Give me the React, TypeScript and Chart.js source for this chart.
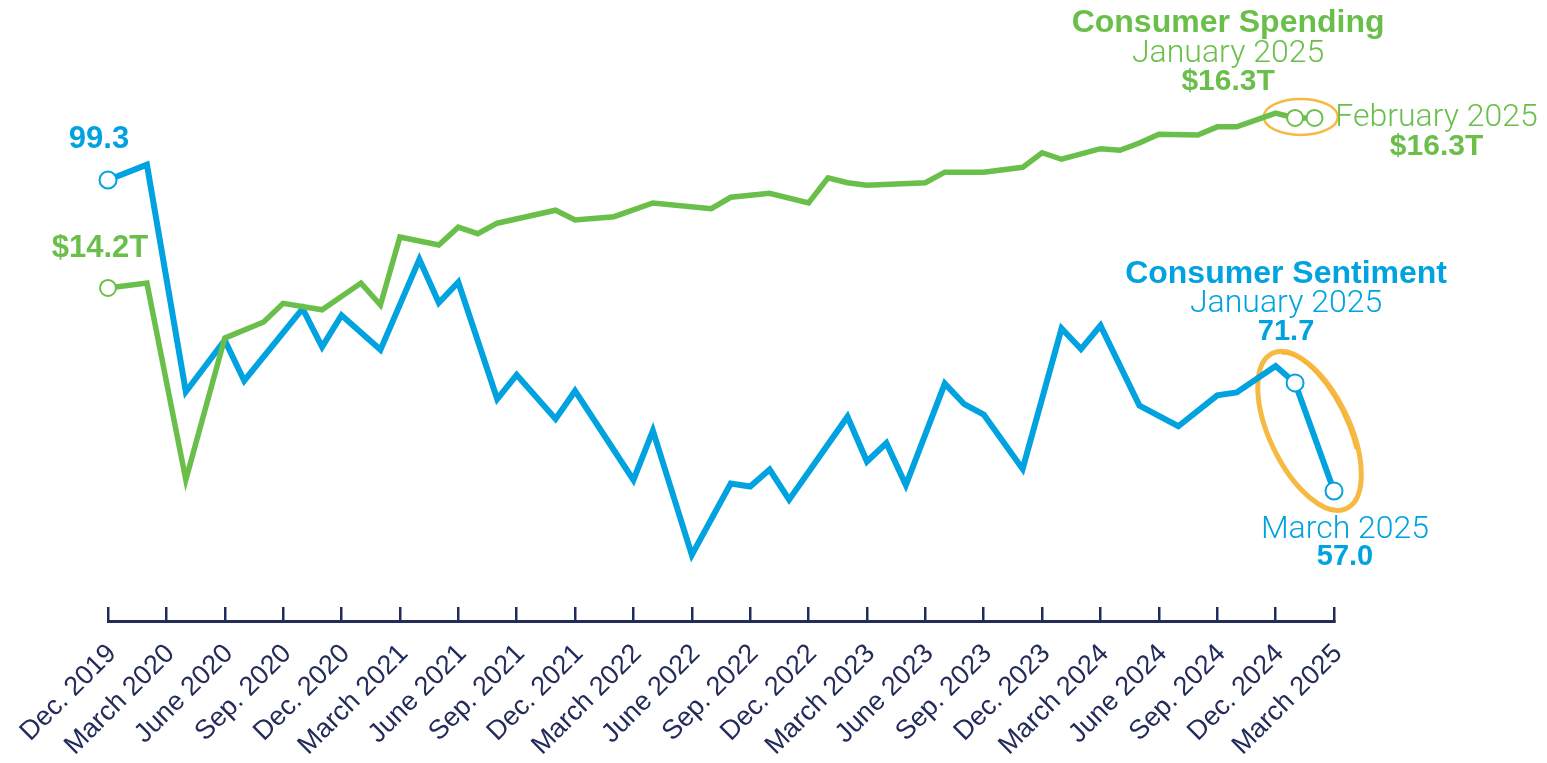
import React, { useEffect, useRef } from "react";
import { Chart, registerables } from "chart.js";

Chart.register(...registerables);

// x values are months counted from Dec. 2019 (0) to March 2025 (63)
const tickLabels = [
  "Dec. 2019", "March 2020", "June 2020", "Sep. 2020", "Dec. 2020", "March 2021",
  "June 2021", "Sep. 2021", "Dec. 2021", "March 2022", "June 2022", "Sep. 2022",
  "Dec. 2022", "March 2023", "June 2023", "Sep. 2023", "Dec. 2023", "March 2024",
  "June 2024", "Sep. 2024", "Dec. 2024", "March 2025",
];

const sentimentMonths = [
  0, 2, 4, 6, 7, 10, 11, 12, 14, 16, 17, 18, 20, 21, 23, 24, 27, 28, 30, 32, 33,
  34, 35, 38, 39, 40, 41, 43, 44, 45, 47, 49, 50, 51, 53, 55, 57, 58, 60, 61, 63,
];
const sentimentValues = [
  99.3, 101.4, 70.5, 77.5, 72.0, 81.8, 76.6, 80.9, 76.2, 88.5, 82.6, 85.4, 69.5,
  72.8, 66.8, 70.6, 58.5, 65.2, 48.3, 58.0, 57.6, 59.9, 55.8, 67.1, 61.0, 63.5,
  57.8, 71.6, 68.8, 67.4, 60.0, 79.1, 76.3, 79.5, 68.6, 65.8, 70.0, 70.4, 74.0,
  71.7, 57.0,
];

const spendingMonths = [
  0, 2, 4, 6, 8, 9, 11, 13, 14, 15, 17, 18, 19, 20, 23, 24, 26, 28, 31, 32, 34,
  36, 37, 38, 39, 42, 43, 45, 47, 48, 49, 51, 52, 53, 54, 56, 57, 58, 60, 61, 62,
];
const spendingValues = [
  14.2, 14.26, 11.83, 13.58, 13.78, 14.01, 13.93, 14.26, 13.99, 14.83, 14.73,
  14.95, 14.87, 15.0, 15.16, 15.04, 15.08, 15.25, 15.18, 15.32, 15.37, 15.25,
  15.56, 15.5, 15.47, 15.5, 15.63, 15.63, 15.69, 15.87, 15.79, 15.92, 15.9,
  15.99, 16.1, 16.09, 16.19, 16.19, 16.36, 16.3, 16.3,
];

const sentimentMarked = [0, 61, 63];
const spendingMarked = [0, 61, 62];

const BLUE = "#00a3e0";
const GREEN = "#6abf4b";
const NAVY = "#232b5b";
const ORANGE = "rgba(245, 178, 48, 0.9)";
const LIGHT_FONT = "Roboto, 'Liberation Sans', Arial, sans-serif";
const BOLD_FONT = "'Liberation Sans', Arial, sans-serif";

const annotationPlugin = {
  id: "annotations",
  beforeDatasetsDraw(chart: any) {
    const { ctx, scales } = chart;
    const x = scales.x;
    const ys = scales.ySent;
    const yp = scales.ySpend;
    const spendAt = (m: number) => ({
      x: x.getPixelForValue(m),
      y: yp.getPixelForValue(spendingValues[spendingMonths.indexOf(m)]),
    });
    const sentAt = (m: number) => ({
      x: x.getPixelForValue(m),
      y: ys.getPixelForValue(sentimentValues[sentimentMonths.indexOf(m)]),
    });
    ctx.save();
    ctx.strokeStyle = ORANGE;
    // spending highlight
    const j = spendAt(61);
    const f = spendAt(62);
    ctx.lineWidth = 2.5;
    ctx.beginPath();
    ctx.ellipse((j.x + f.x) / 2 - 4, (j.y + f.y) / 2 - 1, 37, 18, 0, 0, Math.PI * 2);
    ctx.stroke();
    // sentiment highlight
    const a = sentAt(61);
    const b = sentAt(63);
    const ang = Math.atan2(b.y - a.y, b.x - a.x) - 0.1;
    const cx = (a.x + b.x) / 2 - 5;
    const cy = (a.y + b.y) / 2 - 6;
    ctx.lineWidth = 5;
    ctx.beginPath();
    ctx.ellipse(cx, cy, 86, 40, ang, 0, Math.PI * 2);
    ctx.stroke();
    ctx.lineWidth = 2.5;
    ctx.beginPath();
    ctx.ellipse(cx + 2, cy - 2, 82, 35, ang, -Math.PI * 0.95, -Math.PI * 0.35);
    ctx.stroke();
    ctx.restore();
  },
  afterDatasetsDraw(chart: any) {
    const { ctx, scales } = chart;
    const x = scales.x;
    const ys = scales.ySent;
    const yp = scales.ySpend;
    const sx = (m: number) => x.getPixelForValue(m);
    const spY = (m: number) => yp.getPixelForValue(spendingValues[spendingMonths.indexOf(m)]);
    const seY = (m: number) => ys.getPixelForValue(sentimentValues[sentimentMonths.indexOf(m)]);
    const text = (t: string, px: number, py: number, color: string, bold: boolean, size: number) => {
      ctx.font = bold ? `700 ${size}px ${BOLD_FONT}` : `300 ${size}px ${LIGHT_FONT}`;
      ctx.fillStyle = color;
      ctx.textAlign = "center";
      ctx.textBaseline = "alphabetic";
      ctx.fillText(t, px, py);
    };
    ctx.save();
    // start labels
    text(sentimentValues[0].toFixed(1), sx(0) - 9, seY(0) - 32, BLUE, true, 31);
    text(`$${spendingValues[0].toFixed(1)}T`, sx(0) - 8, spY(0) - 31, GREEN, true, 31);
    // consumer spending
    const jx = sx(61), jy = spY(61);
    text("Consumer Spending", jx - 67, jy - 86, GREEN, true, 32);
    text("January 2025", jx - 67, jy - 56, GREEN, false, 32);
    text(`$${spendingValues[spendingMonths.indexOf(61)].toFixed(1)}T`, jx - 67, jy - 28, GREEN, true, 30);
    const fx = sx(62), fy = spY(62);
    text("February 2025", fx + 122, fy + 8, GREEN, false, 32);
    text(`$${spendingValues[spendingMonths.indexOf(62)].toFixed(1)}T`, fx + 122, fy + 37, GREEN, true, 30);
    // consumer sentiment
    const sjx = sx(61), sjy = seY(61);
    text("Consumer Sentiment", sjx - 9, sjy - 100, BLUE, true, 32);
    text("January 2025", sjx - 9, sjy - 71, BLUE, false, 32);
    text(sentimentValues[sentimentMonths.indexOf(61)].toFixed(1), sjx - 9, sjy - 43, BLUE, true, 29);
    const mx = sx(63), my = seY(63);
    text("March 2025", mx + 11, my + 47, BLUE, false, 32);
    text(sentimentValues[sentimentMonths.indexOf(63)].toFixed(1), mx + 11, my + 74, BLUE, true, 29);
    ctx.restore();
  },
};

export default function App() {
  const canvasRef = useRef<HTMLCanvasElement>(null);

  useEffect(() => {
    const canvas = canvasRef.current;
    if (!canvas) return;
    const spendingData = spendingMonths.map((m, i) => ({ x: m, y: spendingValues[i] }));
    const sentimentData = sentimentMonths.map((m, i) => ({ x: m, y: sentimentValues[i] }));
    const chart = new Chart(canvas, {
      type: "line",
      data: {
        datasets: [
          {
            label: "Consumer Spending",
            data: spendingData,
            yAxisID: "ySpend",
            clip: false,
            borderColor: GREEN,
            borderWidth: 5.5,
            tension: 0,
            borderJoinStyle: "miter",
            pointRadius: (c: any) => (spendingMarked.includes(c.raw?.x) ? 8 : 0),
            pointHoverRadius: (c: any) => (spendingMarked.includes(c.raw?.x) ? 8 : 0),
            pointBackgroundColor: "#ffffff",
            pointBorderColor: GREEN,
            pointBorderWidth: 2,
          },
          {
            label: "Consumer Sentiment",
            data: sentimentData,
            yAxisID: "ySent",
            clip: false,
            borderColor: BLUE,
            borderWidth: 6,
            tension: 0,
            borderJoinStyle: "miter",
            pointRadius: (c: any) => (sentimentMarked.includes(c.raw?.x) ? 8.5 : 0),
            pointHoverRadius: (c: any) => (sentimentMarked.includes(c.raw?.x) ? 8.5 : 0),
            pointBackgroundColor: "#ffffff",
            pointBorderColor: BLUE,
            pointBorderWidth: 2,
          },
        ],
      },
      options: {
        responsive: false,
        animation: false,
        events: [],
        layout: { autoPadding: false, padding: { left: 108, right: 213, top: 0, bottom: 0 } },
        plugins: {
          legend: { display: false },
          tooltip: { enabled: false },
          title: { display: false },
        },
        scales: {
          x: {
            type: "linear",
            position: "bottom",
            min: 0,
            max: 63,
            afterFit: (s: any) => {
              s.height = 142;
              s.paddingLeft = 0;
              s.paddingRight = 0;
            },
            border: { display: true, color: NAVY, width: 3 },
            grid: {
              display: true,
              drawOnChartArea: false,
              drawTicks: true,
              tickLength: -14,
              color: NAVY,
              lineWidth: 2.5,
            },
            ticks: {
              stepSize: 3,
              autoSkip: false,
              maxRotation: 45,
              minRotation: 45,
              padding: 31,
              labelOffset: 4,
              color: NAVY,
              font: { family: BOLD_FONT, size: 27, weight: "400" },
              callback: (v: any) => tickLabels[Math.round(Number(v) / 3)] ?? "",
            },
          },
          ySent: {
            type: "linear",
            display: false,
            min: 39.3,
            max: 123.8,
          },
          ySpend: {
            type: "linear",
            display: false,
            min: 10.086,
            max: 17.757,
          },
        },
      } as any,
      plugins: [annotationPlugin],
    });
    return () => chart.destroy();
  }, []);

  return (
    <div style={{ position: "absolute", left: 0, top: 0, width: 1547, height: 763, background: "#ffffff" }}>
      <canvas ref={canvasRef} width={1547} height={763} style={{ display: "block", width: 1547, height: 763 }} />
    </div>
  );
}
